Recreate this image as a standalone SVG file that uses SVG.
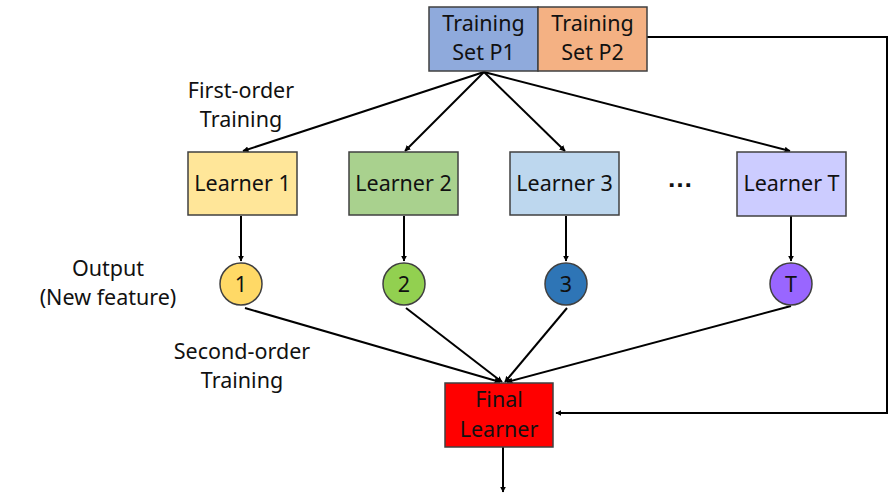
<svg xmlns="http://www.w3.org/2000/svg" width="889" height="501" viewBox="0 0 889 501">
<defs>
<marker id="ah" viewBox="0 0 10 10" refX="9" refY="5" markerWidth="6" markerHeight="6" orient="auto" markerUnits="userSpaceOnUse">
<path d="M0,0 L10,5 L0,10 z" fill="#000"/>
</marker>
<style>
.box{stroke:#404040;stroke-width:1.5}
.t{font-family:"Noto Sans","Liberation Sans",sans-serif;font-size:21.5px;fill:#111;text-anchor:middle}
.c{stroke:#000;stroke-width:2;fill:none}
</style>
</defs>
<rect width="889" height="501" fill="#fff"/>
<g id="connectors">
<line class="c" x1="484" y1="72" x2="243" y2="151" marker-end="url(#ah)"/>
<line class="c" x1="484" y1="72" x2="405" y2="151" marker-end="url(#ah)"/>
<line class="c" x1="484" y1="72" x2="565" y2="151" marker-end="url(#ah)"/>
<line class="c" x1="484" y1="72" x2="790" y2="151" marker-end="url(#ah)"/>
<line class="c" x1="241" y1="216" x2="241" y2="261" marker-end="url(#ah)"/>
<line class="c" x1="404" y1="216" x2="404" y2="261" marker-end="url(#ah)"/>
<line class="c" x1="566" y1="216" x2="566" y2="261" marker-end="url(#ah)"/>
<line class="c" x1="791" y1="216" x2="791" y2="261" marker-end="url(#ah)"/>
<line class="c" x1="245" y1="308" x2="500" y2="382" marker-end="url(#ah)"/>
<line class="c" x1="406" y1="308" x2="502" y2="382" marker-end="url(#ah)"/>
<line class="c" x1="567" y1="308" x2="505" y2="382" marker-end="url(#ah)"/>
<line class="c" x1="791" y1="306" x2="507" y2="382" marker-end="url(#ah)"/>
<polyline class="c" points="647,37 887,37 887,413 556,413" marker-end="url(#ah)"/>
<line class="c" x1="503" y1="447" x2="503" y2="492" marker-end="url(#ah)"/>
</g>
<g id="p1"><rect class="box" x="429" y="7" width="109" height="64" fill="#8faadc"/><text class="t" x="483.5" y="31">Training</text><text class="t" x="483.5" y="60">Set P1</text></g>
<g id="p2"><rect class="box" x="538" y="7" width="109" height="64" fill="#f4b183"/><text class="t" x="592.5" y="31">Training</text><text class="t" x="592.5" y="60">Set P2</text></g>
<g id="learner1"><rect class="box" x="188" y="152" width="109" height="63" fill="#ffe699"/><text class="t" x="242.5" y="191">Learner 1</text></g>
<g id="learner2"><rect class="box" x="349" y="152" width="109" height="63" fill="#a9d18e"/><text class="t" x="403.5" y="191">Learner 2</text></g>
<g id="learner3"><rect class="box" x="510" y="152" width="109" height="63" fill="#bdd7ee"/><text class="t" x="564.5" y="191">Learner 3</text></g>
<g id="dots"><text x="680" y="187" font-family="'Liberation Sans',sans-serif" font-weight="bold" font-size="26" fill="#111" text-anchor="middle">…</text></g>
<g id="learnerT"><rect class="box" x="737" y="152" width="109" height="64" fill="#ccccff"/><text class="t" x="791.5" y="191">Learner T</text></g>
<g id="o1"><circle class="box" cx="241" cy="284" r="21" fill="#ffd966"/><text class="t" x="241" y="292">1</text></g>
<g id="o2"><circle class="box" cx="404" cy="284" r="21" fill="#92d050"/><text class="t" x="404" y="292">2</text></g>
<g id="o3"><circle class="box" cx="566" cy="284" r="21" fill="#2e75b6"/><text class="t" x="566" y="292">3</text></g>
<g id="oT"><circle class="box" cx="791" cy="284" r="21" fill="#9966ff"/><text class="t" x="791" y="292">T</text></g>
<g id="final"><rect class="box" x="445" y="383" width="108" height="64" fill="#ff0000"/><text class="t" x="499" y="407">Final</text><text class="t" x="499" y="437">Learner</text></g>
<g id="labels">
<text class="t" x="241" y="98">First-order</text>
<text class="t" x="241" y="127">Training</text>
<text class="t" x="108" y="276">Output</text>
<text class="t" x="108" y="305">(New feature)</text>
<text class="t" x="242" y="359">Second-order</text>
<text class="t" x="242" y="388">Training</text>
</g>
</svg>
